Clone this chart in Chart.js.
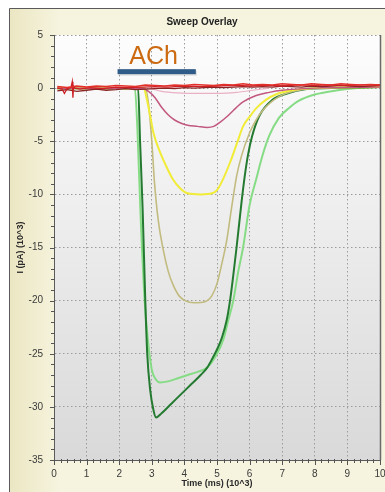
<!DOCTYPE html>
<html>
<head>
<meta charset="utf-8">
<title>Sweep Overlay</title>
<script src="https://cdn.jsdelivr.net/npm/chart.js@4.4.1/dist/chart.umd.min.js"></script>
<style>
  html, body { margin: 0; padding: 0; background: #fff; }
  #wrap { width: 385px; height: 492px; }
</style>
</head>
<body>
<div id="wrap"><canvas id="sweepChart" width="385" height="492"></canvas></div>
<script>
// Axis ticks
const xTickValues = [0, 1, 2, 3, 4, 5, 6, 7, 8, 9, 10];
const yTickValues = [5, 0, -5, -10, -15, -20, -25, -30, -35];

// Texts
const chartTitle = 'Sweep Overlay';
const xTitle = 'Time (ms) (10^3)';
const yTitle = 'I (pA) (10^3)';

// ACh application bar (time in 10^3 ms, level in 10^3 pA)
const achLabel = 'ACh';
const achStart = 1.95;
const achEnd = 4.35;
const achLevel = 1.55;

// Baseline sweeps (red traces)
const baseT = [0.1, 0.4, 0.7, 1.0, 1.3, 1.6, 1.9, 2.2, 2.5, 2.8, 3.1, 3.4, 3.7, 4.0, 4.3, 4.6, 4.9,
               5.2, 5.5, 5.8, 6.1, 6.4, 6.7, 7.0, 7.3, 7.6, 7.9, 8.2, 8.5, 8.8, 9.1, 9.4, 9.7, 10.0];
const redA = [0.15, 0.05, 0.2, 0.1, 0.2, 0.15, 0.25, 0.2, 0.15, 0.3, 0.25, 0.2, 0.3, 0.25, 0.35, 0.3, 0.25,
              0.35, 0.3, 0.4, 0.3, 0.35, 0.3, 0.4, 0.35, 0.3, 0.4, 0.35, 0.3, 0.4, 0.35, 0.3, 0.35, 0.3];
const redB = [-0.25, -0.15, -0.3, -0.2, -0.1, -0.2, -0.15, -0.05, -0.15, -0.1, -0.05, 0.0, -0.05, 0.05, 0.0, 0.05, 0.1,
              0.05, 0.1, 0.15, 0.1, 0.15, 0.1, 0.2, 0.15, 0.1, 0.2, 0.15, 0.2, 0.25, 0.2, 0.15, 0.2, 0.25];
const redCT = [0.1, 0.25, 0.32, 0.4, 0.52, 0.56, 0.58, 0.6, 0.64, 0.8, 1.1, 1.5, 1.9, 2.3, 2.7,
               3.1, 3.5, 4.0, 4.5, 5.0, 5.5, 6.0, 6.5, 7.0, 7.5, 8.0, 8.5, 9.0, 9.5, 10.0];
const redC = [0.0, -0.1, -0.5, -0.05, 0.05, 0.6, -0.9, 0.2, 0.0, -0.1, 0.05, -0.05, 0.1, 0.05, 0.1,
              0.15, 0.1, 0.2, 0.15, 0.2, 0.25, 0.2, 0.25, 0.2, 0.3, 0.25, 0.3, 0.25, 0.3, 0.3];

// Responding sweeps
const pinkT = [0.1, 2.7, 2.9, 3.1, 3.3, 3.5, 3.7, 3.9, 4.1, 4.4, 4.7, 4.9, 5.1, 5.3, 5.5, 5.8, 6.2, 6.6, 7.0, 8.0, 10.0];
const pinkI = [0, 0, -0.3, -0.9, -1.8, -2.5, -3.0, -3.3, -3.5, -3.6, -3.7, -3.6, -3.2, -2.7, -2.1, -1.3, -0.7, -0.4, -0.2, 0.0, 0.1];

const paleT = [2.9, 3.3, 3.8, 4.4, 5.0, 5.6, 6.1, 6.6];
const paleI = [0, -0.3, -0.45, -0.5, -0.5, -0.4, -0.2, 0];

const yellowT = [0.1, 2.75, 2.85, 2.95, 3.05, 3.25, 3.45, 3.65, 3.86, 4.1, 4.5, 4.85, 5.0, 5.15, 5.4,
                 5.6, 5.8, 6.0, 6.2, 6.5, 6.8, 7.3, 8.0, 10.0];
const yellowI = [0, 0, -1.1, -2.6, -4.2, -6.0, -7.4, -8.6, -9.4, -9.9, -10.0, -9.9, -9.6, -8.8, -7.0,
                 -5.3, -3.6, -2.7, -1.9, -1.1, -0.6, -0.2, 0, 0.1];

const tanT = [0.1, 2.8, 2.9, 3.0, 3.08, 3.2, 3.35, 3.5, 3.65, 3.85, 4.1, 4.4, 4.7, 4.85, 5.0,
              5.15, 5.3, 5.45, 5.6, 5.75, 6.0, 6.2, 6.4, 6.9, 7.5, 8.2, 10.0];
const tanI = [0, 0, -1.5, -5.0, -8.8, -12.5, -15.2, -17.2, -18.5, -19.6, -20.1, -20.2, -20.0, -19.5, -18.4,
              -16.5, -14.3, -11.2, -8.3, -6.4, -4.2, -3.0, -2.1, -0.8, -0.2, 0, 0.1];

const darkGreenT = [0.1, 2.58, 2.64, 2.72, 2.8, 2.86, 2.95, 3.05, 3.13, 3.3, 3.6, 3.9, 4.2, 4.5, 4.7, 4.85,
                    5.0, 5.15, 5.3, 5.4, 5.5, 5.6, 5.75, 5.85, 5.95, 6.07, 6.3, 6.7, 7.15, 7.7, 8.5, 10.0];
const darkGreenI = [0, 0, -5, -11.5, -20, -25, -28.4, -30.3, -31.0, -30.6, -29.7, -28.8, -27.9, -27.0, -26.3, -25.5,
                    -24.6, -23.5, -21.8, -20.0, -17.6, -15.0, -10.8, -8.3, -6.3, -4.6, -2.6, -1.1, -0.5, -0.1, 0, 0.1];

const lightGreenT = [0.1, 2.48, 2.56, 2.65, 2.78, 2.88, 3.0, 3.12, 3.25, 3.5, 3.8, 4.1, 4.4, 4.7, 5.0, 5.2,
                     5.35, 5.5, 5.65, 5.8, 6.0, 6.2, 6.4, 6.6, 6.9, 7.2, 7.5, 8.0, 8.7, 9.3, 10.0];
const lightGreenI = [0, 0, -4, -11.5, -20, -23.7, -26.5, -27.4, -27.7, -27.6, -27.3, -27.0, -26.7, -26.3, -25.0, -23.6,
                     -21.8, -20.0, -17.3, -15.0, -11.0, -8.6, -6.3, -4.5, -2.8, -1.9, -1.2, -0.6, -0.2, 0, 0.1];

function pts(t, v) {
    return t.map((tt, i) => ({ x: tt, y: v[i] }));
}

function trace(t, v, color, width, smooth) {
    return {
        data: pts(t, v),
        borderColor: color,
        borderWidth: width,
        pointRadius: 0,
        fill: false,
        tension: 0,
        cubicInterpolationMode: smooth ? 'monotone' : 'default'
    };
}

// Background panel, plot gradient, minor ticks, title and ACh marker
const panelPlugin = {
    id: 'panel',
    beforeDraw(chart) {
        const { ctx, chartArea: a, width, height } = chart;
        ctx.save();
        ctx.fillStyle = '#ffffff';
        ctx.fillRect(0, 0, width, height);
        const g = ctx.createLinearGradient(9, 0, 60, 0);
        g.addColorStop(0, '#ebe6c2');
        g.addColorStop(1, '#f6f4df');
        ctx.fillStyle = g;
        ctx.fillRect(9, 8, width - 9, height - 8);
        ctx.strokeStyle = '#5a5a5a';
        ctx.lineWidth = 1;
        ctx.beginPath();
        ctx.moveTo(9.5, height);
        ctx.lineTo(9.5, 8.5);
        ctx.lineTo(width, 8.5);
        ctx.stroke();
        const pg = ctx.createLinearGradient(0, a.top, 0, a.bottom);
        pg.addColorStop(0, '#fdfdfd');
        pg.addColorStop(1, '#d9d9d9');
        ctx.fillStyle = pg;
        ctx.fillRect(a.left, a.top, a.right - a.left, a.bottom - a.top);
        ctx.restore();
    },
    afterDraw(chart) {
        const { ctx, chartArea: a, scales: { x, y } } = chart;
        ctx.save();
        ctx.strokeStyle = '#555';
        ctx.lineWidth = 1;
        ctx.beginPath();
        for (let v = -35; v <= 5; v += 1) {
            const py = Math.round(y.getPixelForValue(v)) + 0.5;
            const len = v % 5 === 0 ? 4 : 3;
            ctx.moveTo(a.left - len, py);
            ctx.lineTo(a.left + 1, py);
        }
        for (let i = 0; i <= 50; i++) {
            const px = Math.round(x.getPixelForValue(i * 0.2)) + 0.5;
            const len = i % 5 === 0 ? 5 : 3;
            ctx.moveTo(px, a.bottom - 1);
            ctx.lineTo(px, a.bottom + len);
        }
        ctx.stroke();

        // right edge of the plot
        ctx.strokeStyle = '#6a6a6a';
        ctx.lineWidth = 1.5;
        ctx.beginPath();
        ctx.moveTo(a.right + 0.5, a.top);
        ctx.lineTo(a.right + 0.5, a.bottom);
        ctx.stroke();

        // title
        ctx.fillStyle = '#222';
        ctx.font = 'bold 10px "Liberation Sans", Arial, sans-serif';
        ctx.textAlign = 'center';
        ctx.textBaseline = 'middle';
        ctx.fillText(chartTitle, 202, 22);

        // ACh bar and label
        const x0 = x.getPixelForValue(achStart);
        const x1 = x.getPixelForValue(achEnd);
        const yb = y.getPixelForValue(achLevel);
        ctx.fillStyle = 'rgba(0,0,0,0.12)';
        ctx.fillRect(x0 + 1, yb - 1, x1 - x0, 5);
        ctx.fillStyle = '#2f5b88';
        ctx.fillRect(x0, yb - 2.5, x1 - x0, 5);
        ctx.fillStyle = '#cc6a12';
        ctx.font = '25px "Liberation Sans", Arial, sans-serif';
        ctx.textBaseline = 'alphabetic';
        ctx.fillText(achLabel, (x0 + x1) / 2 - 3, yb - 8);
        ctx.restore();
    }
};

function noSidePadding(s) {
    s.paddingLeft = 0;
    s.paddingRight = 0;
    s.paddingTop = 0;
    s.paddingBottom = 0;
}

function initChart() {
    Chart.defaults.font.family = '"Liberation Sans", Arial, sans-serif';
    const ctx = document.getElementById('sweepChart').getContext('2d');
    new Chart(ctx, {
        type: 'line',
        data: {
            datasets: [
                trace(baseT, redA, '#e3302b', 1.5, false),
                trace(redCT, redC, '#cc1f24', 1.3, false),
                trace(baseT, redB, '#8a2323', 1.3, false),
                trace(pinkT, pinkI, '#c2587f', 1.5, true),
                trace(paleT, paleI, '#eab0c4', 1.2, true),
                trace(yellowT, yellowI, '#f1ec37', 2, true),
                trace(tanT, tanI, '#c2bb80', 1.6, true),
                trace(darkGreenT, darkGreenI, '#237a30', 2, true),
                trace(lightGreenT, lightGreenI, '#85dc85', 2, true)
            ]
        },
        options: {
            responsive: false,
            animation: false,
            layout: { padding: { left: 9, right: 5, top: 35, bottom: 0 } },
            plugins: {
                legend: { display: false },
                tooltip: { enabled: false },
                title: { display: false }
            },
            scales: {
                x: {
                    type: 'linear',
                    min: 0,
                    max: 10,
                    afterFit: s => { s.height = 32; noSidePadding(s); },
                    afterBuildTicks: s => { s.ticks = xTickValues.map(v => ({ value: v })); },
                    grid: { color: '#9c9c9c', drawTicks: false },
                    border: { display: true, color: '#5a5a5a', width: 1, dash: [1.5, 2.5] },
                    ticks: { color: '#3a3a3a', font: { size: 10 }, padding: 8, maxRotation: 0 },
                    title: {
                        display: true,
                        text: xTitle,
                        color: '#2a2a2a',
                        font: { size: 9, weight: 'bold' },
                        padding: { top: 0, bottom: 3 }
                    }
                },
                y: {
                    type: 'linear',
                    min: -35,
                    max: 5,
                    afterFit: s => { s.width = 45; noSidePadding(s); },
                    afterBuildTicks: s => { s.ticks = yTickValues.map(v => ({ value: v })); },
                    grid: { color: '#9c9c9c', drawTicks: false },
                    border: { display: true, color: '#5a5a5a', width: 1, dash: [1.5, 2.5] },
                    ticks: { color: '#3a3a3a', font: { size: 10 }, padding: 11 },
                    title: {
                        display: true,
                        text: yTitle,
                        color: '#2a2a2a',
                        font: { size: 9, weight: 'bold' },
                        padding: { top: 6, bottom: 0 }
                    }
                }
            }
        },
        plugins: [panelPlugin]
    });
}

window.addEventListener('load', initChart);
</script>
</body>
</html>
